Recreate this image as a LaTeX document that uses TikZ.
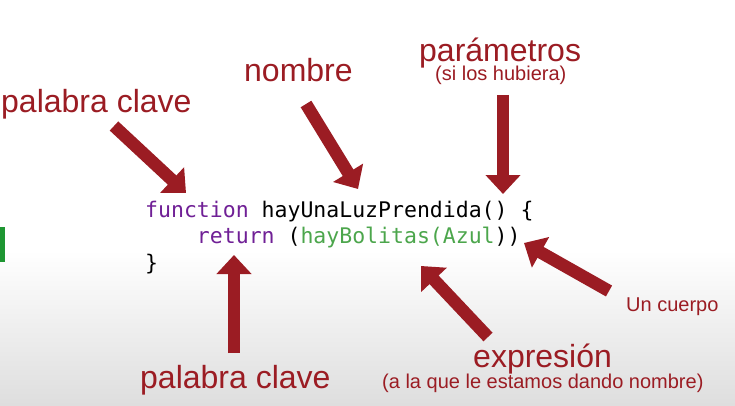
\documentclass[tikz,border=0pt]{standalone}
\usepackage{fontspec}
\setmainfont{Liberation Sans}
\newfontfamily\codefont{DejaVu Sans Mono}
\usetikzlibrary{arrows.meta}
\definecolor{labelred}{RGB}{155,28,35}
\definecolor{kwpurple}{RGB}{112,32,150}
\definecolor{fngreen}{RGB}{76,166,76}
\definecolor{sidegreen}{RGB}{30,150,50}
\tikzset{
  biglabel/.style={anchor=base west, inner sep=0pt, text=labelred, font=\fontsize{32}{38}\selectfont},
  smalllabel/.style={anchor=base west, inner sep=0pt, text=labelred, font=\fontsize{20}{24}\selectfont},
  codeline/.style={anchor=base west, inner sep=0pt, font=\codefont\fontsize{21.5}{26}\selectfont},
  fatarrow/.style={draw=labelred, line width=12.5pt,
    -{Triangle[width=34pt,length=19pt,fill=labelred]}}
}
\begin{document}
\begin{tikzpicture}[x=1pt,y=-1pt]
  % page and soft grey floor
  \useasboundingbox (0,0) rectangle (735,406);
  \fill[white] (0,0) rectangle (735,406);
  \shade[top color=white, bottom color=black!13] (0,250) rectangle (735,406);
  \fill[sidegreen] (0,227) rectangle (5,262);

  % code
  \node[codeline] (line1) at (145,217)
    {\textcolor{kwpurple}{function} hayUnaLuzPrendida() \{};
  \node[codeline] (line2) at (145,243.5)
    {\phantom{xxxx}\textcolor{kwpurple}{return} (\textcolor{fngreen}{hayBolitas(Azul}))};
  \node[codeline] (line3) at (145,270) {\}};

  % labels
  \node[biglabel] (kwtop) at (1,113) {palabra clave};
  \node[biglabel] (name) at (244,82) {nombre};
  \node[biglabel] (params) at (419,62) {parámetros};
  \node[smalllabel] (paramsnote) at (435,81) {(si los hubiera)};
  \node[smalllabel] (body) at (626,311) {Un cuerpo};
  \node[biglabel] (expr) at (473,367) {expresión};
  \node[smalllabel] (exprnote) at (382,388) {(a la que le estamos dando nombre)};
  \node[biglabel] (kwbottom) at (140,388) {palabra clave};

  % arrow ends
  \coordinate (a1s) at (114,126);  \coordinate (a1e) at (186,193);
  \coordinate (a2s) at (306,104);  \coordinate (a2e) at (358,189);
  \coordinate (a3s) at (503,95);   \coordinate (a3e) at (503,194);
  \coordinate (a4s) at (609,291);  \coordinate (a4e) at (524,243);
  \coordinate (a5s) at (488,337);  \coordinate (a5e) at (421,266);
  \coordinate (a6s) at (234,353);  \coordinate (a6e) at (234,255);

  \draw[fatarrow] (a1s) -- (a1e);
  \draw[fatarrow] (a2s) -- (a2e);
  \draw[fatarrow] (a3s) -- (a3e);
  \draw[fatarrow] (a4s) -- (a4e);
  \draw[fatarrow] (a5s) -- (a5e);
  \draw[fatarrow] (a6s) -- (a6e);
\end{tikzpicture}
\end{document}
